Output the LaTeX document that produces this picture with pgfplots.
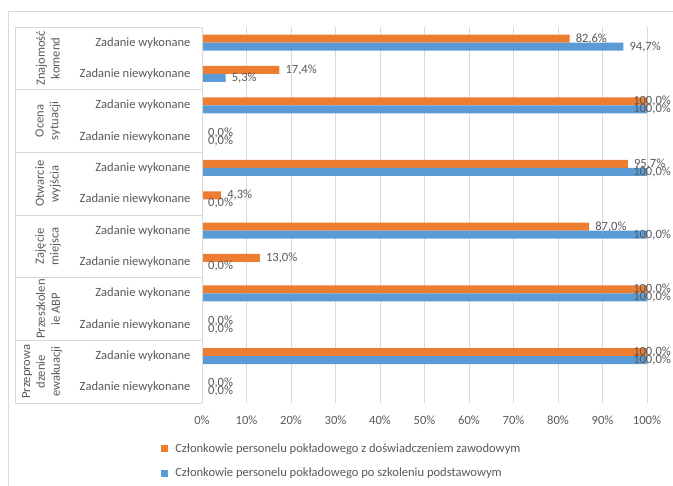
\documentclass[border=0pt]{standalone}
\usepackage{pgfplots}
\pgfplotsset{compat=1.18}
\usepackage{fontspec}
\setmainfont{Carlito}
\definecolor{cOr}{HTML}{ED7D31}
\definecolor{cBl}{HTML}{5B9BD5}
\definecolor{cTx}{HTML}{595959}
\definecolor{cGr}{HTML}{D9D9D9}
\newcommand\cf{\fontsize{12.6}{15}\selectfont}
\begin{document}
\begin{tikzpicture}[x=1bp,y=1bp]
\path[use as bounding box] (0,0) rectangle (673,486);
\draw[cGr] (8,0) -- (8,475) -- (673,475);
\begin{axis}[at={(202bp,83bp)}, anchor=south west, scale only axis,
  width=445bp, height=376bp,
  xbar, bar width=8bp, xmin=0, xmax=100, ymin=-0.5, ymax=11.5, y dir=reverse,
  xtick={0,10,...,100}, xticklabel={\pgfmathprintnumber{\tick}\%},
  ytick={0,...,11},
  yticklabels={Zadanie wykonane, Zadanie niewykonane, Zadanie wykonane, Zadanie niewykonane,
    Zadanie wykonane, Zadanie niewykonane, Zadanie wykonane, Zadanie niewykonane,
    Zadanie wykonane, Zadanie niewykonane, Zadanie wykonane, Zadanie niewykonane},
  major tick length=0, xmajorgrids, grid style={cGr, line width=0.8bp},
  axis line style={draw=none},
  tick label style={font=\cf, text=cTx},
  yticklabel style={anchor=east, xshift=-8bp},
  xticklabel style={anchor=north, yshift=-9bp},
  /pgf/number format/assume math mode=true,
  clip=false,
  point meta=x,
  visualization depends on={rawx \as \rx},
  nodes near coords={\pgfmathprintnumber[fixed,fixed zerofill,precision=1,use comma]{\pgfplotspointmeta}\%},
  every node near coord/.append style={font=\cf, text=cTx, anchor=west, inner sep=1bp,
    xshift={ifthenelse(\rx>99,-15,5)}},
  legend style={at={(axis description cs:-0.092,-0.104)}, anchor=north west, draw=none, fill=none,
    font=\cf, text=cTx, row sep=12.5bp, inner sep=0pt, nodes={inner sep=1bp}},
  legend cell align=left,
]
\addplot[fill=cOr, draw=none, bar shift=4bp,
  legend image code/.code={\fill[cOr] (0bp,-3.5bp) rectangle (7bp,3.5bp); \path (0bp,0bp) -- (13bp,0bp);}]
  coordinates {(82.6,0) (17.4,1) (100,2) (0,3) (95.7,4) (4.3,5) (87.0,6) (13.0,7) (100,8) (0,9) (100,10) (0,11)};
\addplot[fill=cBl, draw=none, bar shift=-4bp,
  legend image code/.code={\fill[cBl] (0bp,-3.5bp) rectangle (7bp,3.5bp); \path (0bp,0bp) -- (13bp,0bp);}]
  coordinates {(94.7,0) (5.3,1) (100,2) (0,3) (100,4) (0,5) (100,6) (0,7) (100,8) (0,9) (100,10) (0,11)};
\legend{Członkowie personelu pokładowego z doświadczeniem zawodowym,
  Członkowie personelu pokładowego po szkoleniu podstawowym}
\pgfplotsinvokeforeach{-0.5,1.5,3.5,5.5,7.5,9.5,11.5}{
  \draw[cGr, line width=0.8bp] ([xshift=-187bp]axis cs:0,#1) -- (axis cs:0,#1);
}
\draw[cGr, line width=0.8bp] ([xshift=-187bp]axis cs:0,-0.5) -- ([xshift=-187bp]axis cs:0,11.5);
\draw[cGr, line width=0.8bp] (axis cs:0,-0.5) -- (axis cs:0,11.5);
\begin{scope}[every node/.style={rotate=90, align=center, font=\cf, text=cTx, inner sep=0pt}]
\node at ([xshift=-154bp]axis cs:0,0.5) {Znajomość\\komend};
\node at ([xshift=-154bp]axis cs:0,2.5) {Ocena\\sytuacji};
\node at ([xshift=-154bp]axis cs:0,4.5) {Otwarcie\\wyjścia};
\node at ([xshift=-154bp]axis cs:0,6.5) {Zajęcie\\miejsca};
\node at ([xshift=-154bp]axis cs:0,8.5) {Przeszkolen\\ie ABP};
\node at ([xshift=-160bp]axis cs:0,10.5) {Przeprowa\\dzenie\\ewakuacji};
\end{scope}
\end{axis}
\end{tikzpicture}
\end{document}
